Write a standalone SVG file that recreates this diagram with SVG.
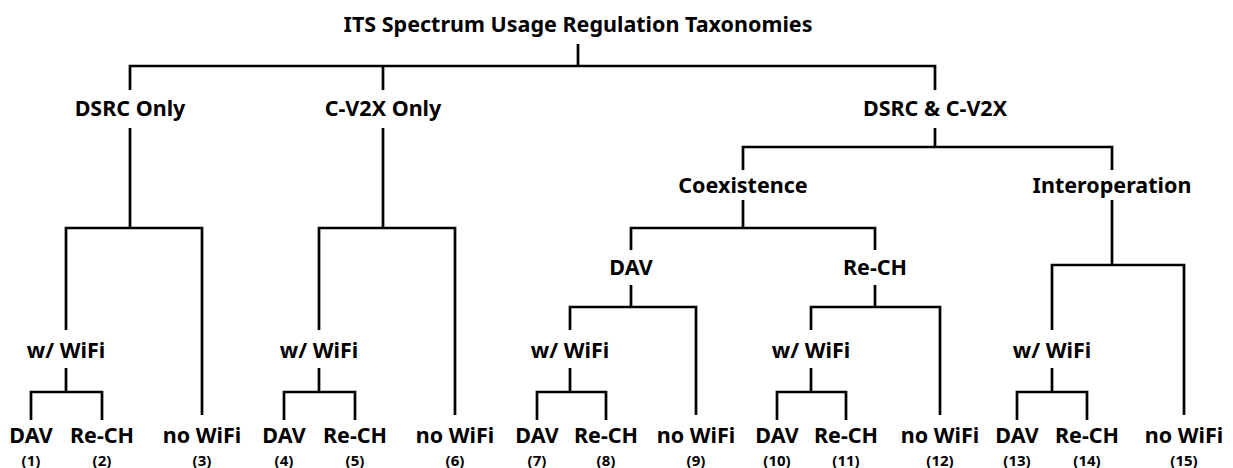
<svg xmlns="http://www.w3.org/2000/svg" width="1233" height="468" viewBox="0 0 1233 468">
<style>
.t{font-family:"Noto Sans","Liberation Sans",sans-serif;font-weight:bold;fill:#000;text-anchor:middle}
.l{font-size:21.5px}
.n{font-size:15px}
.c path{fill:none;stroke:#000;stroke-width:2.7}
</style>
<rect width="1233" height="468" fill="#fff"/>
<g class="c" id="connectors">
<path d="M578 44V66M130 90V66H935V90M383 66V90"/>
<path d="M130 128V228M66 330V228H202V415"/>
<path d="M66 368V392M31 420V392H102V420"/>
<path d="M383 128V228M319 330V228H455V415"/>
<path d="M319 368V392M284 420V392H355V420"/>
<path d="M935 128V147M743 170V147H1112V170"/>
<path d="M743 200V228M631 250V228H875V250"/>
<path d="M631 285V307M570 330V307H696V415"/>
<path d="M570 368V392M537 420V392H606V420"/>
<path d="M875 285V307M811 330V307H940V415"/>
<path d="M811 368V392M777 420V392H846V420"/>
<path d="M1112 200V265M1052 330V265H1184V415"/>
<path d="M1052 368V392M1017 420V392H1087V420"/>
</g>
<g id="root"><text class="t l" x="578" y="32">ITS Spectrum Usage Regulation Taxonomies</text></g>
<g id="dsrc"><text class="t l" x="130" y="116">DSRC Only</text></g>
<g id="cv2x"><text class="t l" x="383" y="116">C-V2X Only</text></g>
<g id="both"><text class="t l" x="935" y="116">DSRC &amp; C-V2X</text></g>
<g id="coex"><text class="t l" x="743" y="193">Coexistence</text></g>
<g id="inter"><text class="t l" x="1112" y="193">Interoperation</text></g>
<g id="coex-dav"><text class="t l" x="631" y="275">DAV</text></g>
<g id="coex-rech"><text class="t l" x="875" y="275">Re-CH</text></g>
<g id="w1"><text class="t l" x="66" y="358">w/ WiFi</text></g>
<g id="w2"><text class="t l" x="319" y="358">w/ WiFi</text></g>
<g id="w3"><text class="t l" x="570" y="358">w/ WiFi</text></g>
<g id="w4"><text class="t l" x="811" y="358">w/ WiFi</text></g>
<g id="w5"><text class="t l" x="1052" y="358">w/ WiFi</text></g>
<g id="leaf1"><text class="t l" x="31" y="443">DAV</text><text class="t n" x="31" y="466">(1)</text></g>
<g id="leaf2"><text class="t l" x="102" y="443">Re-CH</text><text class="t n" x="102" y="466">(2)</text></g>
<g id="leaf3"><text class="t l" x="202" y="443">no WiFi</text><text class="t n" x="202" y="466">(3)</text></g>
<g id="leaf4"><text class="t l" x="284" y="443">DAV</text><text class="t n" x="284" y="466">(4)</text></g>
<g id="leaf5"><text class="t l" x="355" y="443">Re-CH</text><text class="t n" x="355" y="466">(5)</text></g>
<g id="leaf6"><text class="t l" x="455" y="443">no WiFi</text><text class="t n" x="455" y="466">(6)</text></g>
<g id="leaf7"><text class="t l" x="537" y="443">DAV</text><text class="t n" x="537" y="466">(7)</text></g>
<g id="leaf8"><text class="t l" x="606" y="443">Re-CH</text><text class="t n" x="606" y="466">(8)</text></g>
<g id="leaf9"><text class="t l" x="696" y="443">no WiFi</text><text class="t n" x="696" y="466">(9)</text></g>
<g id="leaf10"><text class="t l" x="777" y="443">DAV</text><text class="t n" x="777" y="466">(10)</text></g>
<g id="leaf11"><text class="t l" x="846" y="443">Re-CH</text><text class="t n" x="846" y="466">(11)</text></g>
<g id="leaf12"><text class="t l" x="940" y="443">no WiFi</text><text class="t n" x="940" y="466">(12)</text></g>
<g id="leaf13"><text class="t l" x="1017" y="443">DAV</text><text class="t n" x="1017" y="466">(13)</text></g>
<g id="leaf14"><text class="t l" x="1087" y="443">Re-CH</text><text class="t n" x="1087" y="466">(14)</text></g>
<g id="leaf15"><text class="t l" x="1184" y="443">no WiFi</text><text class="t n" x="1184" y="466">(15)</text></g>
</svg>
